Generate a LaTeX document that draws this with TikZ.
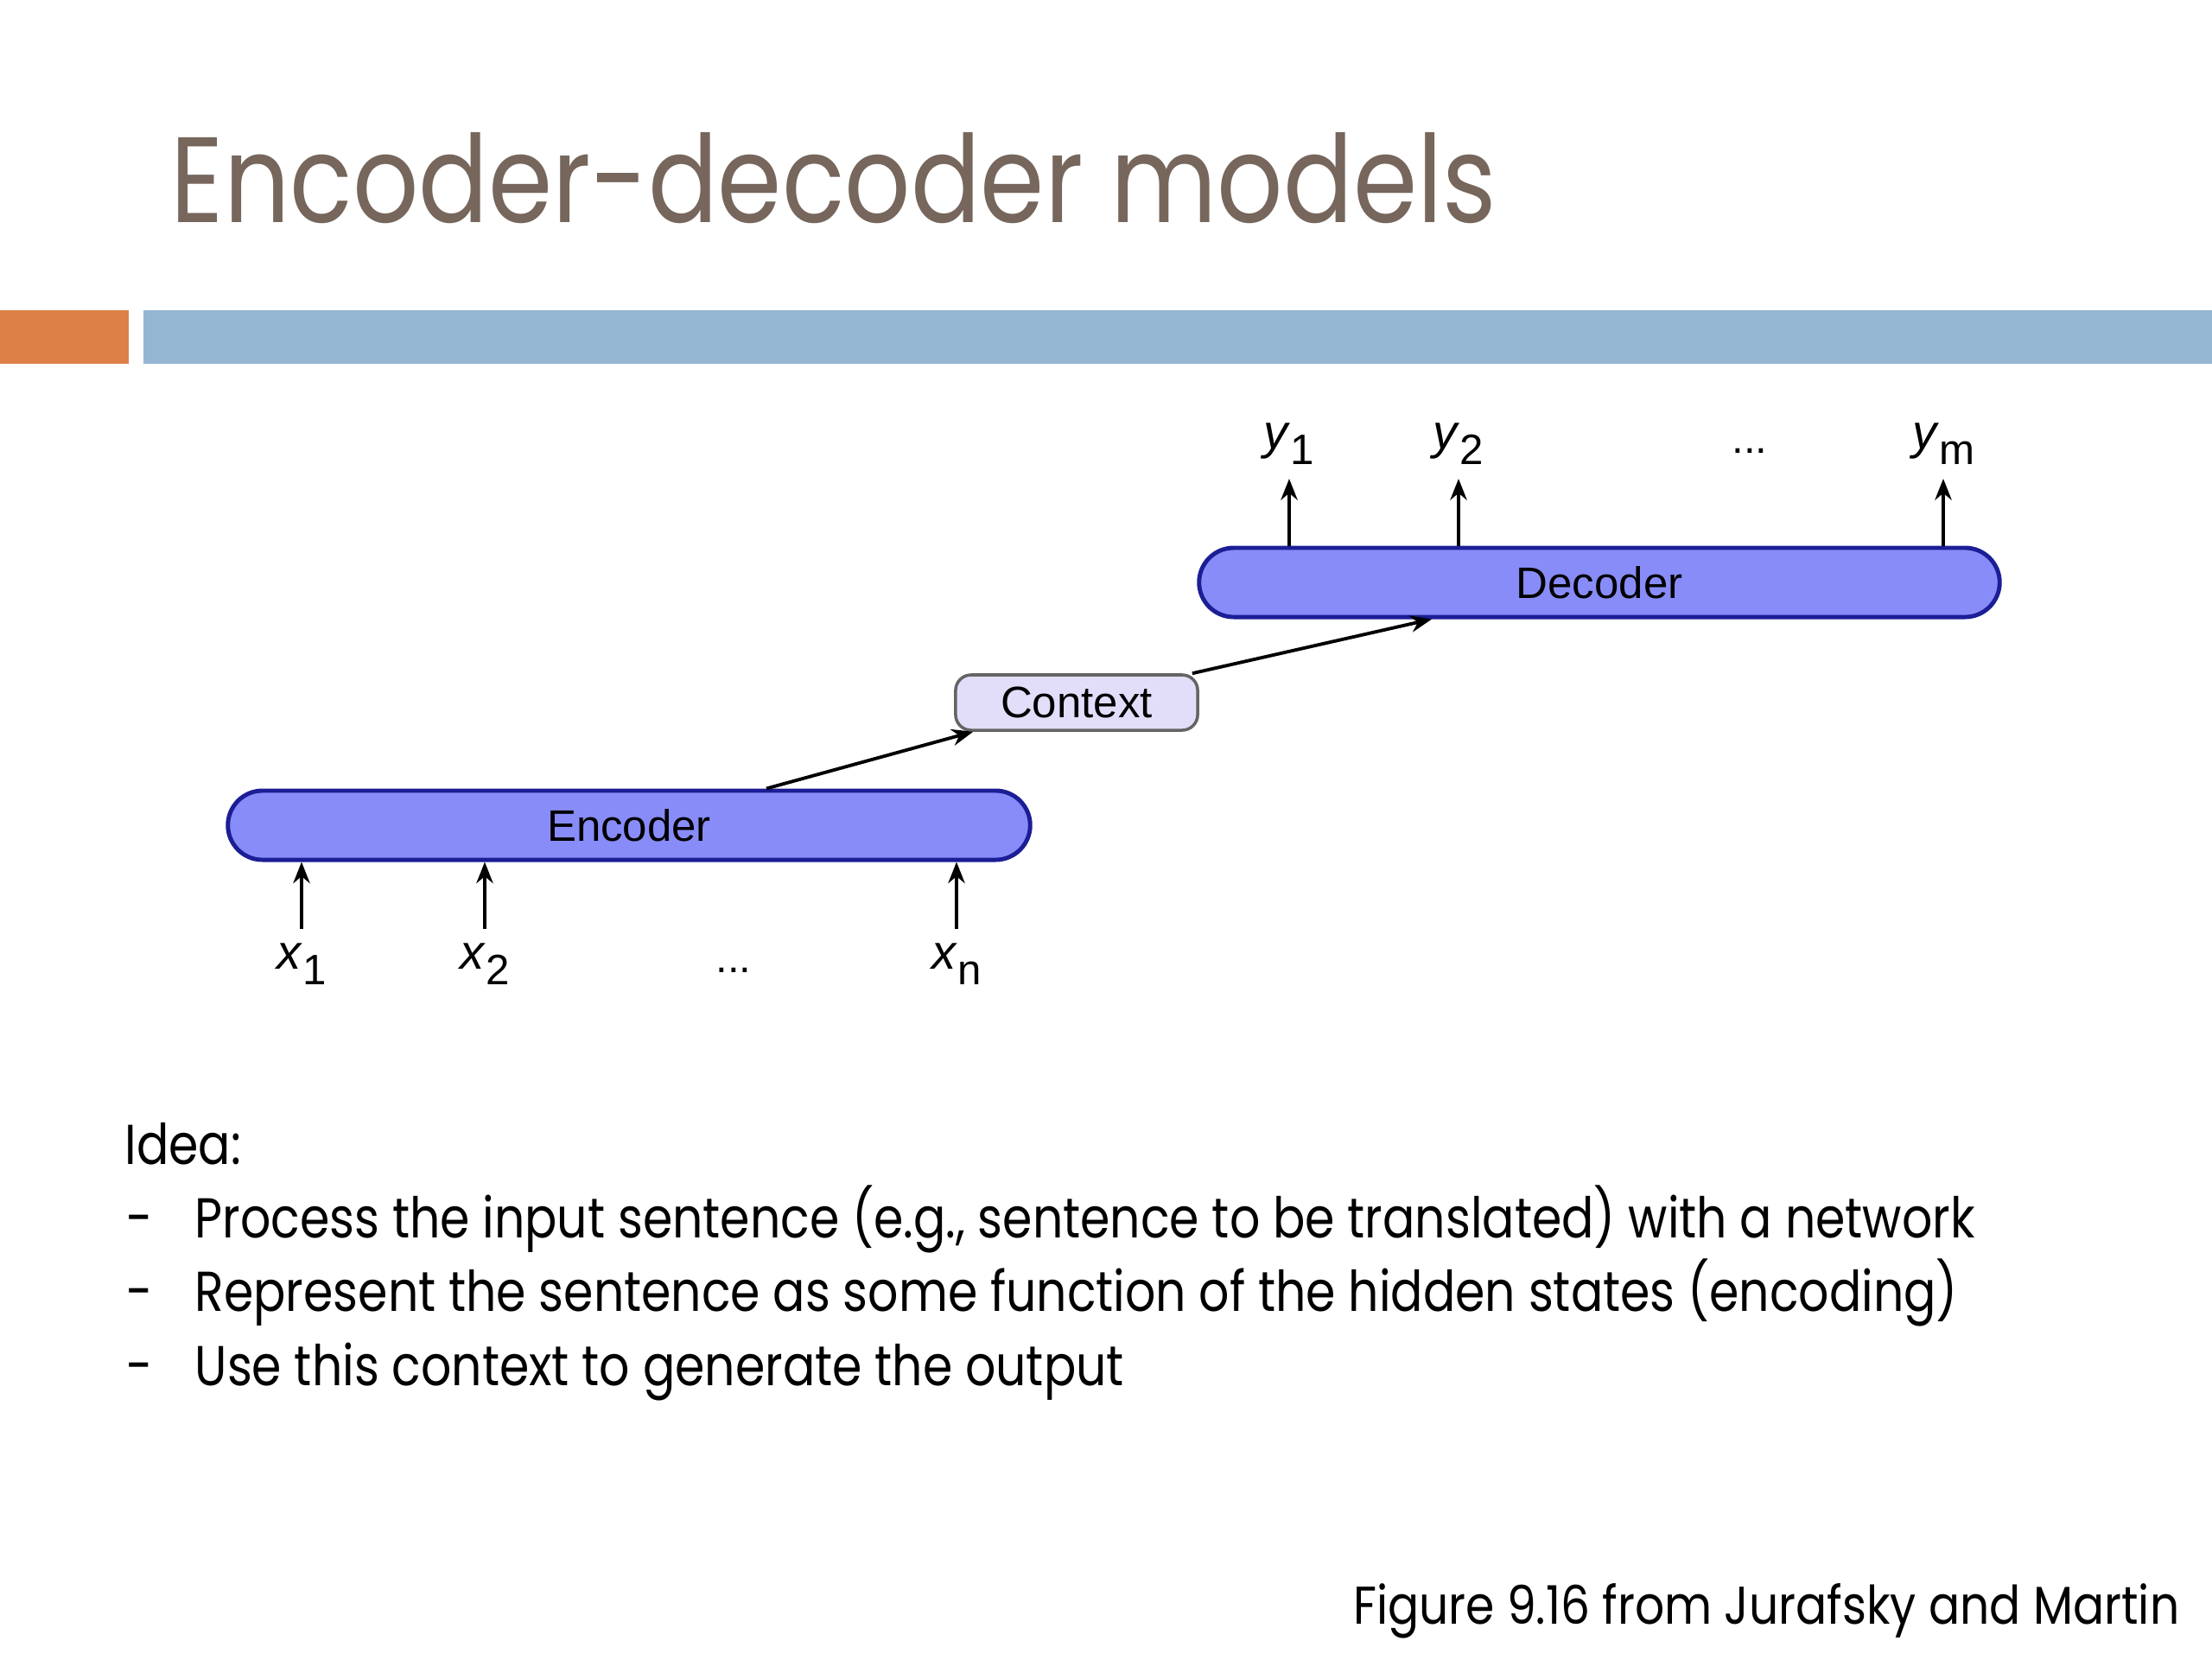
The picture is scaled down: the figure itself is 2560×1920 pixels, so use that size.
\documentclass[tikz,border=0pt]{standalone}
\usepackage{fontspec}
\setmainfont{Liberation Sans}
\newfontfamily\gfont[FakeStretch=0.85]{Poppins}
\newfontfamily\ffont[FakeStretch=0.87]{Poppins}
\usetikzlibrary{arrows.meta,calc}
\definecolor{titlec}{RGB}{118,102,92}
\definecolor{barorange}{RGB}{221,128,71}
\definecolor{barblue}{RGB}{148,182,210}
\definecolor{encf}{RGB}{136,140,248}
\definecolor{encb}{RGB}{28,30,150}
\definecolor{ctxf}{RGB}{226,222,250}
\definecolor{ctxb}{RGB}{100,100,100}
\newcommand\varlab[2]{\textit{#1}\raisebox{-0.6ex}{\fontsize{14}{15}\selectfont #2}}
\begin{document}
\begin{tikzpicture}[x=0.01cm,y=-0.01cm,
  block/.style={draw=encb, fill=encf, line width=1.4pt, rounded corners=0.4cm,
    minimum height=0.8cm, inner sep=0pt, font=\fontsize{14.5}{17}\selectfont},
  ctxbox/.style={draw=ctxb, fill=ctxf, line width=1pt, rounded corners=0.18cm,
    minimum width=2.8cm, minimum height=0.64cm, inner sep=0pt, font=\fontsize{14.5}{17}\selectfont},
  arr/.style={-{Stealth[length=7pt,width=5.5pt]}, line width=1.1pt},
  lab/.style={font=\fontsize{16}{18}\selectfont, inner xsep=0pt, inner ysep=4.5pt},
  dots/.style={font=\fontsize{14}{16}\selectfont, inner sep=0pt},
  body/.style={anchor=base west, inner sep=0pt, font=\gfont\fontsize{18.5}{22}\selectfont},
]
\useasboundingbox (0,0) rectangle (2560,1920);
\fill[white] (0,0) rectangle (2560,1920);
% title and bars
\node[anchor=base west, inner sep=0pt, text=titlec, font=\gfont\fontsize{40}{48}\selectfont] (title) at (197,257) {Encoder-decoder models};
\fill[barorange] (0,359) rectangle (149,421);
\fill[barblue] (166,359) rectangle (2560,421);
% diagram
\node[block, minimum width=9.28cm] (enc) at (728,955) {Encoder};
\node[block, minimum width=9.26cm] (dec) at (1851,674) {Decoder};
\node[ctxbox] (ctx) at (1246,813) {Context};
\node[lab, anchor=north] (x1) at (349,1075) {\varlab{x}{1}};
\node[lab, anchor=north] (x2) at (561,1075) {\varlab{x}{2}};
\node[lab, anchor=north] (xn) at (1107,1075) {\varlab{x}{n}};
\node[dots] (xd) at (849,1123) {...};
\node[lab, anchor=south] (y1) at (1492,554) {\varlab{y}{1}};
\node[lab, anchor=south] (y2) at (1688,554) {\varlab{y}{2}};
\node[lab, anchor=south] (ym) at (2249,554) {\varlab{y}{m}};
\node[dots] (yd) at (2025,522) {...};
\foreach \n in {x1,x2,xn} \draw[arr] (\n.north) -- (\n.north |- enc.south);
\foreach \n in {y1,y2,ym} \draw[arr] (\n.south |- dec.north) -- (\n.south);
\draw[arr] ($(enc.north)+(159,0)$) -- ($(ctx.south west)+(22,0)$);
\draw[arr] ($(ctx.north east)+(-8,0)$) -- ($(dec.south)+(-194,0)$);
% text
\node[body] (idea) at (144,1347) {Idea:};
\node[body] (b1) at (146,1432) {-};
\node[body] (t1) at (225,1432) {Process the input sentence (e.g., sentence to be translated) with a network};
\node[body] (b2) at (146,1517) {-};
\node[body] (t2) at (225,1517) {Represent the sentence as some function of the hidden states (encoding)};
\node[body] (b3) at (146,1603) {-};
\node[body] (t3) at (225,1603) {Use this context to generate the output};
\node[anchor=base east, inner sep=0pt, font=\ffont\fontsize{17.5}{20}\selectfont] (fig) at (2523,1879) {Figure 9.16 from Jurafsky and Martin};
\end{tikzpicture}
\end{document}
